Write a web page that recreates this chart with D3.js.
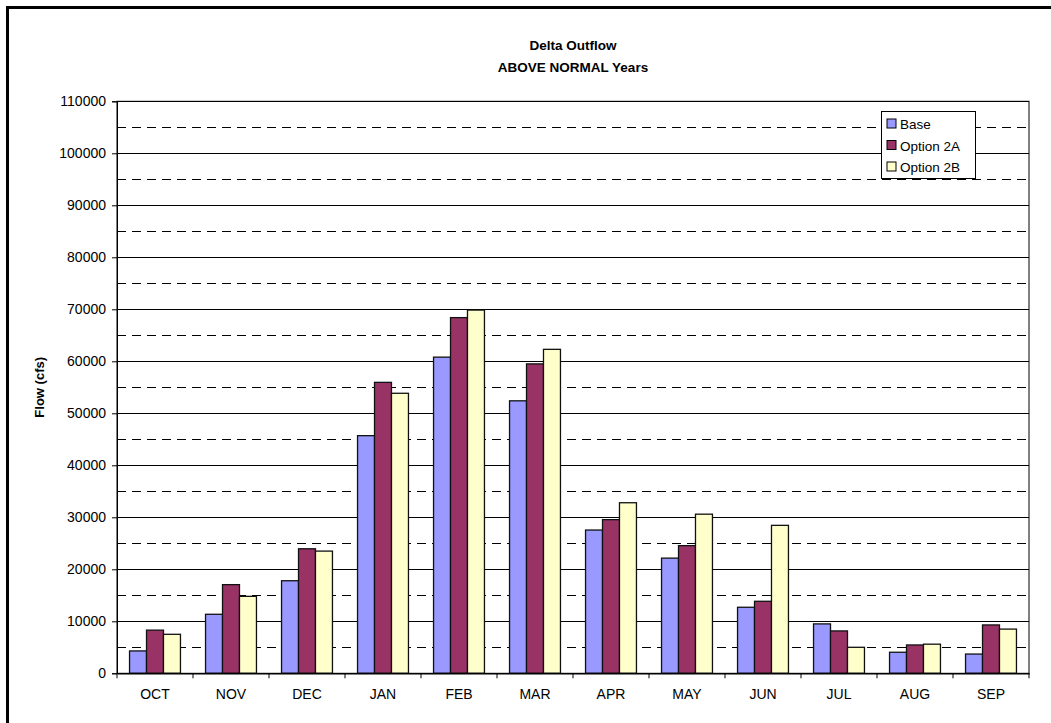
<!DOCTYPE html>
<html><head><meta charset="utf-8">
<script src="https://cdn.jsdelivr.net/npm/d3@7"></script>
<style>body{margin:0;background:#fff;} text{font-family:Arial,"Liberation Sans",sans-serif;}</style>
</head><body><svg id="c" width="1051" height="723"></svg>
<script>
const months = ["OCT","NOV","DEC","JAN","FEB","MAR","APR","MAY","JUN","JUL","AUG","SEP"];
const seriesNames = ["Base","Option 2A","Option 2B"];
const base     = [4300, 11350, 17800, 45700, 60800, 52400, 27550, 22150, 12700, 9500, 4050, 3700];
const option2A = [8300, 17050, 23950, 55950, 68400, 59500, 29550, 24550, 13850, 8150, 5450, 9300];
const option2B = [7500, 14800, 23500, 53850, 69850, 62300, 32800, 30600, 28450, 5000, 5600, 8500];
const colors = ["#9999FF","#993366","#FFFFCC"];
const majorTicks = d3.range(0, 110001, 10000);
const minorTicks = d3.range(5000, 110000, 10000);

const svg = d3.select("#c");
const L = 117, R = 1029, T = 101.3, B = 673.3;
svg.append("rect").attr("x",7.5).attr("y",7.5).attr("width",1200).attr("height",900)
  .attr("fill","none").attr("stroke","#000").attr("stroke-width",3);

const y = d3.scaleLinear().domain([0,110000]).range([B,T]);
const x0 = d3.scaleBand().domain(months).range([L,R]).paddingInner(0.33).paddingOuter(0.165);
const x1 = d3.scaleBand().domain(seriesNames).range([0,x0.bandwidth()]);

// gridlines
svg.append("g").selectAll("line").data(majorTicks.filter(d=>d>0)).join("line")
  .attr("x1",L).attr("x2",R).attr("y1",d=>Math.round(y(d))+0.5).attr("y2",d=>Math.round(y(d))+0.5)
  .attr("stroke","#000").attr("stroke-width",1);
svg.append("g").selectAll("line").data(minorTicks).join("line")
  .attr("x1",L).attr("x2",R).attr("y1",d=>Math.round(y(d))+0.5).attr("y2",d=>Math.round(y(d))+0.5)
  .attr("stroke","#000").attr("stroke-width",1).attr("stroke-dasharray","9,6");

// bars
const data = [base, option2A, option2B];
const g = svg.append("g");
months.forEach((m,i)=>{
  seriesNames.forEach((s,j)=>{
    const v = data[j][i];
    g.append("rect").attr("x",x0(m)+x1(s)).attr("y",y(v))
      .attr("width",x1.bandwidth()).attr("height",B-y(v))
      .attr("fill",colors[j]).attr("stroke","#111").attr("stroke-width",1.3);
  });
});

// plot border
svg.append("rect").attr("x",L).attr("y",T).attr("width",R-L).attr("height",B-T)
  .attr("fill","none").attr("stroke","#000").attr("stroke-width",1);

// y axis
const ya = d3.axisLeft(y).tickValues(majorTicks).tickSize(5).tickPadding(6).tickFormat(d3.format("d"));
const yg = svg.append("g").attr("transform",`translate(${L},0)`).call(ya);
yg.select(".domain").attr("stroke","#000");
yg.selectAll("text").attr("font-size","14px").attr("fill","#000");
yg.selectAll(".tick line").attr("stroke","#000");

// x axis
const xa = d3.axisBottom(x0).tickSize(0).tickPadding(16);
const xg = svg.append("g").attr("transform",`translate(0,${B})`).call(xa);
xg.select(".domain").attr("stroke","#000").attr("stroke-width",1.5);
xg.selectAll("text").attr("font-size","14px").attr("fill","#000");
const bounds = d3.range(0,13).map(k=>L + k*x0.step());
svg.append("g").selectAll("line").data(bounds).join("line")
  .attr("x1",d=>d).attr("x2",d=>d).attr("y1",B).attr("y2",B+5).attr("stroke","#000");

// titles
svg.append("text").attr("x",(L+R)/2).attr("y",50).attr("text-anchor","middle")
  .attr("font-size","13.5px").attr("font-weight","bold").text("Delta Outflow");
svg.append("text").attr("x",(L+R)/2).attr("y",72).attr("text-anchor","middle")
  .attr("font-size","13.5px").attr("font-weight","bold").text("ABOVE NORMAL Years");
svg.append("text").attr("transform",`translate(44,${(T+B)/2}) rotate(-90)`).attr("text-anchor","middle")
  .attr("font-size","13px").attr("font-weight","bold").text("Flow (cfs)");

// legend
const lg = svg.append("g").attr("transform","translate(881,111)");
lg.append("rect").attr("x",0.5).attr("y",0.5).attr("width",94).attr("height",67)
  .attr("fill","#fff").attr("stroke","#000");
seriesNames.forEach((s,j)=>{
  const cy = 13 + j*21.5;
  lg.append("rect").attr("x",6).attr("y",cy-5).attr("width",9).attr("height",9)
    .attr("fill",colors[j]).attr("stroke","#000");
  lg.append("text").attr("x",19).attr("y",cy+5).attr("font-size","13.5px").text(s);
});
</script></body></html>
